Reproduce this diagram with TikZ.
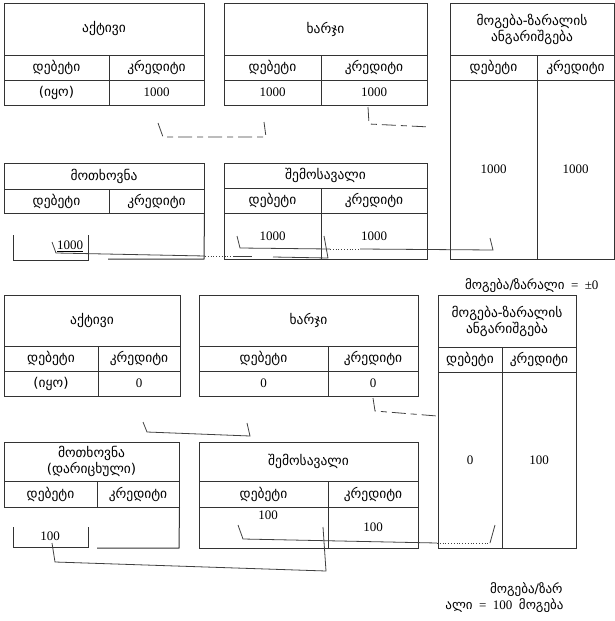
\documentclass[tikz,border=0pt]{standalone}
\usepackage{fontspec}
\setmainfont{Liberation Serif}
\newfontfamily\geofont{DejaVu Sans}
\newcommand{\ka}[1]{{\geofont #1}}

\begin{document}
\begin{tikzpicture}[
  x=1pt, y=-1pt,
  cell/.style={draw=black!80, line width=1pt, inner sep=0pt, align=center,
    font=\geofont\fontsize{13.5}{16}\selectfont},
  num/.style={font=\fontsize{13}{15}\selectfont},
  note/.style={anchor=east, font=\fontsize{13}{15}\selectfont},
  rule/.style={draw=black!80, line width=1pt},
  link/.style={draw=black!75, line width=0.8pt},
  gap/.style={link, dash pattern=on 14pt off 5pt on 6pt off 5pt}
]
\useasboundingbox (0,0) rectangle (615,621);

% first state
\node[cell, minimum width=200pt, minimum height=52pt] (akt1) at (104,29) {აქტივი};
\node[cell, minimum width=105pt, minimum height=25pt] (akt1deb) at (56.5,67.5) {დებეტი};
\node[cell, minimum width=95pt, minimum height=25pt] (akt1kred) at (156.5,67.5) {კრედიტი};
\node[cell, minimum width=105pt, minimum height=25pt] (akt1debv) at (56.5,92.5) {(იყო)};
\node[cell, num, minimum width=95pt, minimum height=25pt] (akt1kredv) at (156.5,92.5) {1000};

\node[cell, minimum width=203pt, minimum height=52pt] (xar1) at (325.5,29) {ხარჯი};
\node[cell, minimum width=97pt, minimum height=25pt] (xar1deb) at (272.5,67.5) {დებეტი};
\node[cell, minimum width=106pt, minimum height=25pt] (xar1kred) at (374,67.5) {კრედიტი};
\node[cell, num, minimum width=97pt, minimum height=25pt] (xar1debv) at (272.5,92.5) {1000};
\node[cell, num, minimum width=106pt, minimum height=25pt] (xar1kredv) at (374,92.5) {1000};

\node[cell, minimum width=164pt, minimum height=52pt] (pl1) at (532,29) {მოგება-ზარალის\\ანგარიშგება};
\node[cell, minimum width=87pt, minimum height=25pt] (pl1deb) at (493.5,67.5) {დებეტი};
\node[cell, minimum width=77pt, minimum height=25pt] (pl1kred) at (575.5,67.5) {კრედიტი};
\node[cell, num, minimum width=87pt, minimum height=179pt] (pl1debv) at (493.5,169.5) {1000};
\node[cell, num, minimum width=77pt, minimum height=179pt] (pl1kredv) at (575.5,169.5) {1000};

\node[cell, minimum width=200pt, minimum height=26pt] (mot1) at (104,176) {მოთხოვნა};
\node[cell, minimum width=105pt, minimum height=24pt] (mot1deb) at (56.5,201) {დებეტი};
\node[cell, minimum width=95pt, minimum height=24pt] (mot1kred) at (156.5,201) {კრედიტი};
\draw[rule] (mot1kred.south east) -- (204,259) -- (108,259);
\draw[rule] (13,235) -- (13,260) -- (88,260) -- (88,235);
\node[num] (mot1debv) at (70,246) {\underline{1000}};

\node[cell, minimum width=203pt, minimum height=25pt] (sem1) at (325.5,175.5) {შემოსავალი};
\node[cell, minimum width=97pt, minimum height=25pt] (sem1deb) at (272.5,200.5) {დებეტი};
\node[cell, minimum width=106pt, minimum height=25pt] (sem1kred) at (374,200.5) {კრედიტი};
\node[cell, num, minimum width=97pt, minimum height=46pt] (sem1debv) at (272.5,236) {1000};
\node[cell, num, minimum width=106pt, minimum height=46pt] (sem1kredv) at (374,236) {1000};

\coordinate (a1) at (158,123);
\coordinate (a2) at (163,137);
\coordinate (a3) at (266,137);
\coordinate (a4) at (264,122);
\draw[gap] (a1) -- (a2) -- (a3) -- (a4);

\coordinate (b1) at (368,107);
\coordinate (b2) at (369,124);
\coordinate (b3) at (430,127);
\draw[gap] (b1) -- (b2) -- (b3);

\coordinate (c1) at (52,242);
\coordinate (c2) at (56,253);
\coordinate (c3) at (205,256);
\coordinate (c4) at (233,256);
\coordinate (c5) at (252,256);
\coordinate (c6) at (273,257);
\coordinate (c7) at (328,258);
\coordinate (c8) at (324,236);
\draw[link] (c1) -- (c2) -- (c3);
\draw[link, dotted] (c3) -- (c4);
\draw[link] (c4) -- (c5);
\draw[link] (c6) -- (c7) -- (c8);

\coordinate (d1) at (237,236);
\coordinate (d2) at (240,248);
\coordinate (d3) at (330,249);
\coordinate (d4) at (360,249);
\coordinate (d5) at (493,250);
\coordinate (d6) at (490,238);
\draw[link] (d1) -- (d2) -- (d3);
\draw[link, dotted] (d3) -- (d4);
\draw[link] (d4) -- (d5) -- (d6);

% second state
\node[note] (res1) at (602,286) {\ka{მოგება/ზარალი}\ \ =\ \ ±0};

\node[cell, minimum width=176pt, minimum height=51pt] (akt2) at (92,320.5) {აქტივი};
\node[cell, minimum width=94pt, minimum height=25pt] (akt2deb) at (51,358.5) {დებეტი};
\node[cell, minimum width=82pt, minimum height=25pt] (akt2kred) at (139,358.5) {კრედიტი};
\node[cell, minimum width=94pt, minimum height=25pt] (akt2debv) at (51,383.5) {(იყო)};
\node[cell, num, minimum width=82pt, minimum height=25pt] (akt2kredv) at (139,383.5) {0};

\node[cell, minimum width=219pt, minimum height=51pt] (xar2) at (308.5,320.5) {ხარჯი};
\node[cell, minimum width=129pt, minimum height=25pt] (xar2deb) at (263.5,358.5) {დებეტი};
\node[cell, minimum width=90pt, minimum height=25pt] (xar2kred) at (373,358.5) {კრედიტი};
\node[cell, num, minimum width=129pt, minimum height=25pt] (xar2debv) at (263.5,383.5) {0};
\node[cell, num, minimum width=90pt, minimum height=25pt] (xar2kredv) at (373,383.5) {0};

\node[cell, minimum width=138pt, minimum height=52pt] (pl2) at (507,321) {მოგება-ზარალის\\ანგარიშგება};
\node[cell, minimum width=64pt, minimum height=25pt] (pl2deb) at (470,359.5) {დებეტი};
\node[cell, minimum width=74pt, minimum height=25pt] (pl2kred) at (539,359.5) {კრედიტი};
\node[cell, num, minimum width=64pt, minimum height=176pt] (pl2debv) at (470,460) {0};
\node[cell, num, minimum width=74pt, minimum height=176pt] (pl2kredv) at (539,460) {100};

\node[cell, minimum width=175pt, minimum height=39pt] (mot2) at (91.5,461.5) {მოთხოვნა\\(დარიცხული)};
\node[cell, minimum width=93pt, minimum height=26pt] (mot2deb) at (50.5,494) {დებეტი};
\node[cell, minimum width=82pt, minimum height=26pt] (mot2kred) at (138,494) {კრედიტი};
\draw[rule] (mot2kred.south east) -- (179,548) -- (97,548);
\draw[rule] (13,527) -- (13,547) -- (88,547) -- (88,527);
\node[num] (mot2debv) at (50,536) {100};

\node[cell, minimum width=219pt, minimum height=39pt] (sem2) at (308.5,461.5) {შემოსავალი};
\node[cell, minimum width=129pt, minimum height=26pt] (sem2deb) at (263.5,494) {დებეტი};
\node[cell, minimum width=90pt, minimum height=26pt] (sem2kred) at (373,494) {კრედიტი};
\node[cell, minimum width=129pt, minimum height=41pt] (sem2debc) at (263.5,527.5) {};
\node[cell, num, minimum width=90pt, minimum height=41pt] (sem2kredv) at (373,527.5) {100};
\node[num] (sem2debv) at (268,515) {100};

\coordinate (e1) at (373,398);
\coordinate (e2) at (375,411);
\coordinate (e3) at (437,416);
\draw[gap] (e1) -- (e2) -- (e3);

\coordinate (f1) at (143,422);
\coordinate (f2) at (147,432);
\coordinate (f3) at (250,436);
\coordinate (f4) at (247,423);
\draw[link] (f1) -- (f2) -- (f3) -- (f4);

\coordinate (g1) at (238,525);
\coordinate (g2) at (243,539);
\coordinate (g3) at (437,543);
\coordinate (g4) at (490,543);
\coordinate (g5) at (495,525);
\draw[link] (g1) -- (g2) -- (g3);
\draw[link, dotted] (g3) -- (g4);
\draw[link] (g4) -- (g5);

\coordinate (h1) at (52,543);
\coordinate (h2) at (55,562);
\coordinate (h3) at (326,571);
\coordinate (h4) at (323,527);
\draw[link] (h1) -- (h2) -- (h3) -- (h4);

\node[note] (res2a) at (566,590) {\ka{მოგება/ზარ}};
\node[note] (res2b) at (567,606) {\ka{ალი}\ \ =\ \ 100\ \ \ka{მოგება}};
\end{tikzpicture}
\end{document}
